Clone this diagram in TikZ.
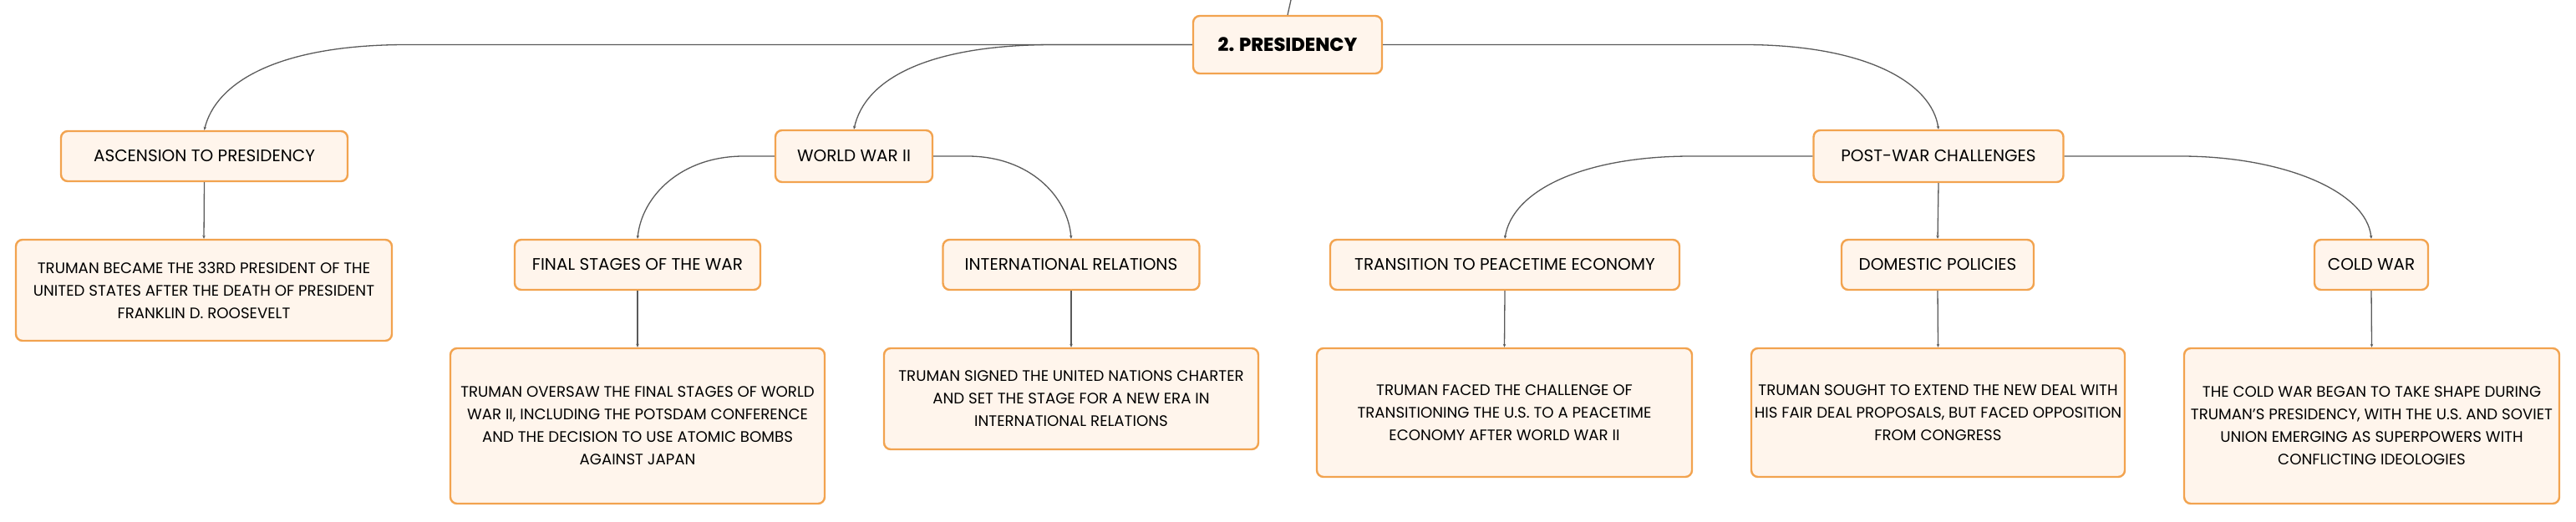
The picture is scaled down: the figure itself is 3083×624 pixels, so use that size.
\documentclass[tikz,border=0pt]{standalone}
\usepackage{fontspec}
\setmainfont{Poppins}[BoldFont={Poppins ExtraBold}]
\usetikzlibrary{arrows.meta}
\definecolor{boxline}{HTML}{F2A34F}
\definecolor{boxfill}{HTML}{FFF5EC}
\definecolor{wire}{HTML}{5A5A5A}
\tikzset{
  topic/.style={draw=boxline, line width=2.4pt, fill=boxfill, rounded corners=8pt,
    inner sep=0pt, align=center, text=black},
  roottopic/.style={topic, font=\fontsize{22.5}{27}\selectfont\bfseries},
  subtopic/.style={topic, font=\fontsize{20}{24}\selectfont},
  detail/.style={topic, font=\fontsize{18.2}{27}\selectfont},
  wirestyle/.style={draw=wire, line width=1.3pt, -{Stealth[length=4pt,width=3.5pt]}},
}
\begin{document}
\begin{tikzpicture}[x=1pt,y=-1pt]
\useasboundingbox (0,0) rectangle (3083,624);
% root
\node[roottopic, minimum width=226pt, minimum height=69pt] (pres) at (1541,53.5) {2. PRESIDENCY};
\coordinate (up) at (1545,0);
% level 1
\node[subtopic, minimum width=343pt, minimum height=60pt] (asc) at (244.5,187) {ASCENSION TO PRESIDENCY};
\node[subtopic, minimum width=188pt, minimum height=62pt] (wwii) at (1022,187) {WORLD WAR II};
\node[subtopic, minimum width=299pt, minimum height=62pt] (pw) at (2320,187) {POST-WAR CHALLENGES};
% level 2
\node[detail, minimum width=450pt, minimum height=121pt] (ascd) at (244,347.5)
  {TRUMAN BECAME THE 33RD PRESIDENT OF THE\\UNITED STATES AFTER THE DEATH OF PRESIDENT\\FRANKLIN D. ROOSEVELT};
\node[subtopic, minimum width=294pt, minimum height=60pt] (fs) at (763,317) {FINAL STAGES OF THE WAR};
\node[subtopic, minimum width=307pt, minimum height=60pt] (ir) at (1282,317) {INTERNATIONAL RELATIONS};
\node[subtopic, minimum width=418pt, minimum height=60pt] (tp) at (1801,317) {TRANSITION TO PEACETIME ECONOMY};
\node[subtopic, minimum width=230pt, minimum height=60pt] (dp) at (2319,317) {DOMESTIC POLICIES};
\node[subtopic, minimum width=136pt, minimum height=60pt] (cw) at (2838,317) {COLD WAR};
% level 3
\node[detail, minimum width=448pt, minimum height=186pt] (fsd) at (763,510)
  {TRUMAN OVERSAW THE FINAL STAGES OF WORLD\\WAR II, INCLUDING THE POTSDAM CONFERENCE\\AND THE DECISION TO USE ATOMIC BOMBS\\AGAINST JAPAN};
\node[detail, minimum width=448pt, minimum height=121pt] (ird) at (1282,477.5)
  {TRUMAN SIGNED THE UNITED NATIONS CHARTER\\AND SET THE STAGE FOR A NEW ERA IN\\INTERNATIONAL RELATIONS};
\node[detail, minimum width=449pt, minimum height=154pt] (tpd) at (1800.5,494)
  {TRUMAN FACED THE CHALLENGE OF\\TRANSITIONING THE U.S. TO A PEACETIME\\ECONOMY AFTER WORLD WAR II};
\node[detail, minimum width=447pt, minimum height=154pt] (dpd) at (2319.5,494)
  {TRUMAN SOUGHT TO EXTEND THE NEW DEAL WITH\\HIS FAIR DEAL PROPOSALS, BUT FACED OPPOSITION\\FROM CONGRESS};
\node[detail, minimum width=449pt, minimum height=186pt] (cwd) at (2838.5,510)
  {THE COLD WAR BEGAN TO TAKE SHAPE DURING\\TRUMAN'S PRESIDENCY, WITH THE U.S. AND SOVIET\\UNION EMERGING AS SUPERPOWERS WITH\\CONFLICTING IDEOLOGIES};
% connectors
\draw[draw=wire, line width=1.3pt] (pres.north) -- (up);
\draw[wirestyle] (pres.west) -- (487,53.5) .. controls (330,53.5) and (258,100) .. (asc.north);
\draw[wirestyle] (pres.west) -- (1261,53.5) .. controls (1110,53.5) and (1035,95) .. (wwii.north);
\draw[wirestyle] (pres.east) -- (2087,53.5) .. controls (2235,53.5) and (2312,100) .. (pw.north);
\draw[wirestyle] (asc.south) -- (ascd.north);
\draw[wirestyle] (wwii.west) -- (890,187) .. controls (815,187) and (768,235) .. (fs.north);
\draw[wirestyle] (wwii.east) -- (1158,187) .. controls (1232,187) and (1278,235) .. (ir.north);
\draw[wirestyle] (fs.south) -- (fsd.north);
\draw[wirestyle] (ir.south) -- (ird.north);
\draw[wirestyle] (pw.west) -- (2024,187) .. controls (1895,187) and (1810,228) .. (tp.north);
\draw[wirestyle] (pw.south) -- (dp.north);
\draw[wirestyle] (pw.east) -- (2610,187) .. controls (2730,187) and (2832,228) .. (cw.north);
\draw[wirestyle] (tp.south) -- (tpd.north);
\draw[wirestyle] (dp.south) -- (dpd.north);
\draw[wirestyle] (cw.south) -- (cwd.north);
\end{tikzpicture}
\end{document}
